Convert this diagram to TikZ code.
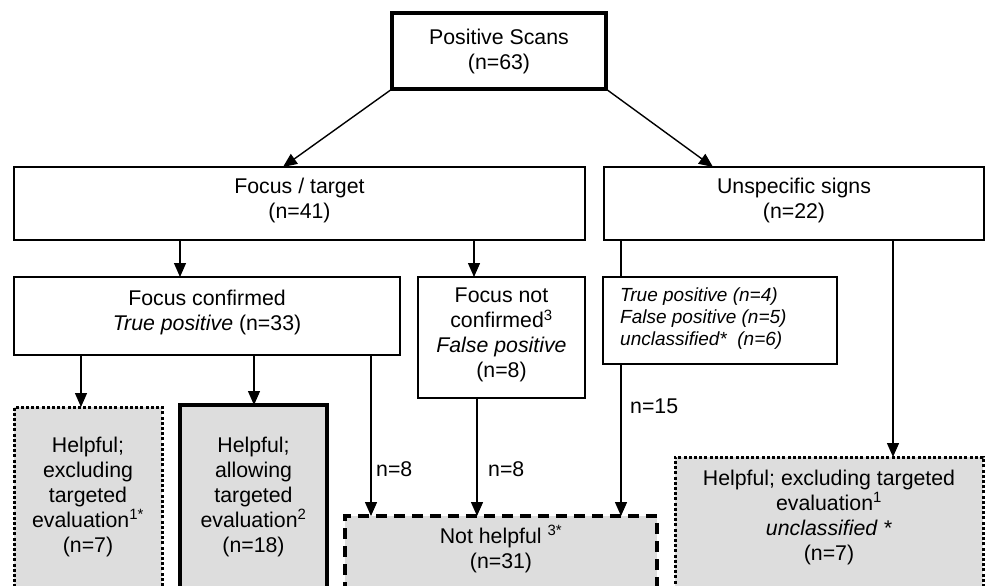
\documentclass[tikz,border=0pt]{standalone}
\usepackage{fontspec}
\setmainfont{Liberation Sans}
\usetikzlibrary{arrows.meta}
\definecolor{boxgray}{RGB}{221,221,221}
\tikzset{
  x=1pt, y=-1pt,
  base/.style={draw=black, line width=1.4pt, inner sep=0pt, outer sep=0pt, align=center,
               font=\fontsize{21.3}{25}\selectfont},
  plainbox/.style={base, fill=white},
  thickbox/.style={base, line width=3.4pt},
  graybox/.style={base, fill=boxgray},
  thickgray/.style={graybox, line width=3.4pt},
  dottedgray/.style={graybox, line width=3pt, dash pattern=on 3pt off 2.2pt},
  dashedgray/.style={graybox, line width=3.4pt, dash pattern=on 11pt off 7pt},
  txt/.style={inner sep=0pt, align=center, font=\fontsize{21.3}{25}\selectfont},
  itxt/.style={inner sep=0pt, align=left, font=\fontsize{19}{22}\selectfont\itshape},
  lbl/.style={inner sep=0pt, anchor=west, font=\fontsize{21.3}{25}\selectfont},
  arr/.style={line width=1.4pt, -{Triangle[length=14pt,width=12pt]}},
  ln/.style={line width=1.4pt},
}
\begin{document}
\begin{tikzpicture}
\useasboundingbox (0,0) rectangle (989,586);
\clip (0,0) rectangle (989,586);
% boxes
\node[thickbox, minimum width=214pt, minimum height=76pt] (top) at (499,51) {Positive Scans\\(n=63)};
\node[plainbox, minimum width=571pt, minimum height=73pt] (ft) at (299.5,203.5) {};
\node[txt] (ftt) at (299.5,200) {Focus / target\\(n=41)};
\node[plainbox, minimum width=380pt, minimum height=73pt] (us) at (794,203.5) {};
\node[txt] (ust) at (794,200) {Unspecific signs\\(n=22)};
\node[plainbox, minimum width=386pt, minimum height=78pt] (fc) at (207,316) {};
\node[txt] (fct) at (207,312) {Focus confirmed\\\textit{True positive} (n=33)};
\node[plainbox, minimum width=167pt, minimum height=121pt] (fnc) at (501.5,337.5) {};
\node[txt] (fnct) at (501.5,335) {Focus not\\confirmed\textsuperscript{3}\\\textit{False positive}\\(n=8)};
\node[plainbox, minimum width=234pt, minimum height=87pt] (ib) at (720,320.5) {};
\node[itxt, anchor=west] (ibt) at (620,319) {True positive (n=4)\\False positive (n=5)\\unclassified*~~(n=6)};
\node[dottedgray, minimum width=148pt, minimum height=213pt] (lh) at (88,513.5) {};
\node[thickgray, minimum width=147pt, minimum height=215pt] (mh) at (253.5,512.5) {};
\node[dashedgray, minimum width=312pt, minimum height=120pt] (nh) at (501,576) {};
\node[dottedgray, minimum width=308pt, minimum height=160pt] (rh) at (829,537) {};
% texts in bottom boxes
\node[txt] (lht) at (88,497) {Helpful;\\excluding\\targeted\\evaluation\textsuperscript{1*}\\(n=7)};
\node[txt] (mht) at (253.5,497) {Helpful;\\allowing\\targeted\\evaluation\textsuperscript{2}\\(n=18)};
\node[txt] (nht) at (501,549) {Not helpful \textsuperscript{3*}\\(n=31)};
\node[txt] (rht) at (829,517) {Helpful; excluding targeted\\evaluation\textsuperscript{1}\\\textit{unclassified *}\\(n=7)};
% connectors
\draw[arr] (top.south west) -- (283,0 |- ft.north);
\draw[arr] (top.south east) -- (713,0 |- us.north);
\draw[arr] (180,0 |- ft.south) -- (180,0 |- fc.north);
\draw[arr] (474,0 |- ft.south) -- (474,0 |- fnc.north);
\draw[ln] (621,0 |- us.south) -- (621,0 |- ib.north);
\draw[arr] (621,0 |- ib.south) -- (621,0 |- nh.north);
\draw[arr] (893,0 |- us.south) -- (893,0 |- rh.north);
\draw[arr] (81,0 |- fc.south) -- (81,0 |- lh.north);
\draw[arr] (254,0 |- fc.south) -- (254,0 |- mh.north);
\draw[arr] (371,0 |- fc.south) -- (371,0 |- nh.north);
\draw[arr] (477,0 |- fnc.south) -- (477,0 |- nh.north);
% labels
\node[lbl] (l1) at (376,469) {n=8};
\node[lbl] (l2) at (488,469) {n=8};
\node[lbl] (l3) at (630,406) {n=15};
\end{tikzpicture}
\end{document}
